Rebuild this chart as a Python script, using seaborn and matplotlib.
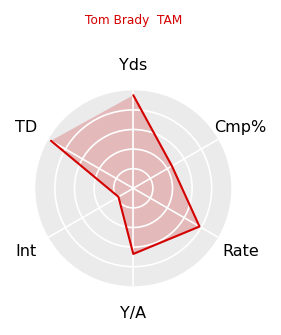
import numpy as np
import pandas as pd
import matplotlib
matplotlib.use("Agg")
import matplotlib.pyplot as plt
import matplotlib.transforms as mtransforms
import seaborn as sns

categories = ["Yds", "Cmp%", "Rate", "Y/A", "Int", "TD"]
values = [95, 45.5, 78, 67, 17.5, 97]
title = "Tom Brady  TAM"

sns.set_style("white")
plt.rcParams["font.family"] = ["DejaVu Sans"]

W, H = 281, 335
fig = plt.figure(figsize=(W / 100, H / 100), dpi=100)
cx, cy, R = 133.3, 188.3, 98
ax = fig.add_axes([(cx - R) / W, (H - cy - R) / H, 2 * R / W, 2 * R / H], projection="polar")

n = len(categories)
angles = [i * 2 * np.pi / n for i in range(n)]
df = pd.DataFrame({"angle": angles + [angles[0]], "value": values + [values[0]]})

ax.set_theta_zero_location("N")
ax.set_theta_direction(-1)
ax.set_facecolor("#EBEBEB")
ax.spines["polar"].set_visible(False)
ax.set_axisbelow(True)

red = "#D40000"
ax.fill(df["angle"], df["value"], color="#C80000", alpha=0.21, zorder=0.3, linewidth=0)
sns.lineplot(data=df, x="angle", y="value", sort=False, color=red, linewidth=1.5, ax=ax, zorder=3)

ax.set_ylim(0, 100)
ax.set_yticks([20, 40, 60, 80])
ax.set_yticklabels([])
ax.set_xticks(angles)
ax.set_xticklabels([])
ax.grid(True, color="white", linewidth=1.2)
ax.xaxis.set_zorder(0.5)
ax.yaxis.set_zorder(0.5)
ax.set_xlabel("")
ax.set_ylabel("")
ax.tick_params(length=0)

off = mtransforms.offset_copy(ax.transData, fig=fig, x=0, y=-1, units="dots")
for a, lab in zip(angles, categories):
    ax.text(a, 126.5, lab, ha="center", va="center", fontsize=11.5, color="black",
            clip_on=False, transform=off)

fig.text(cx / W, 1 - 20.5 / H, title, ha="center", va="center", fontsize=8.7, color=red)

fig.savefig("out.png", dpi=100)
